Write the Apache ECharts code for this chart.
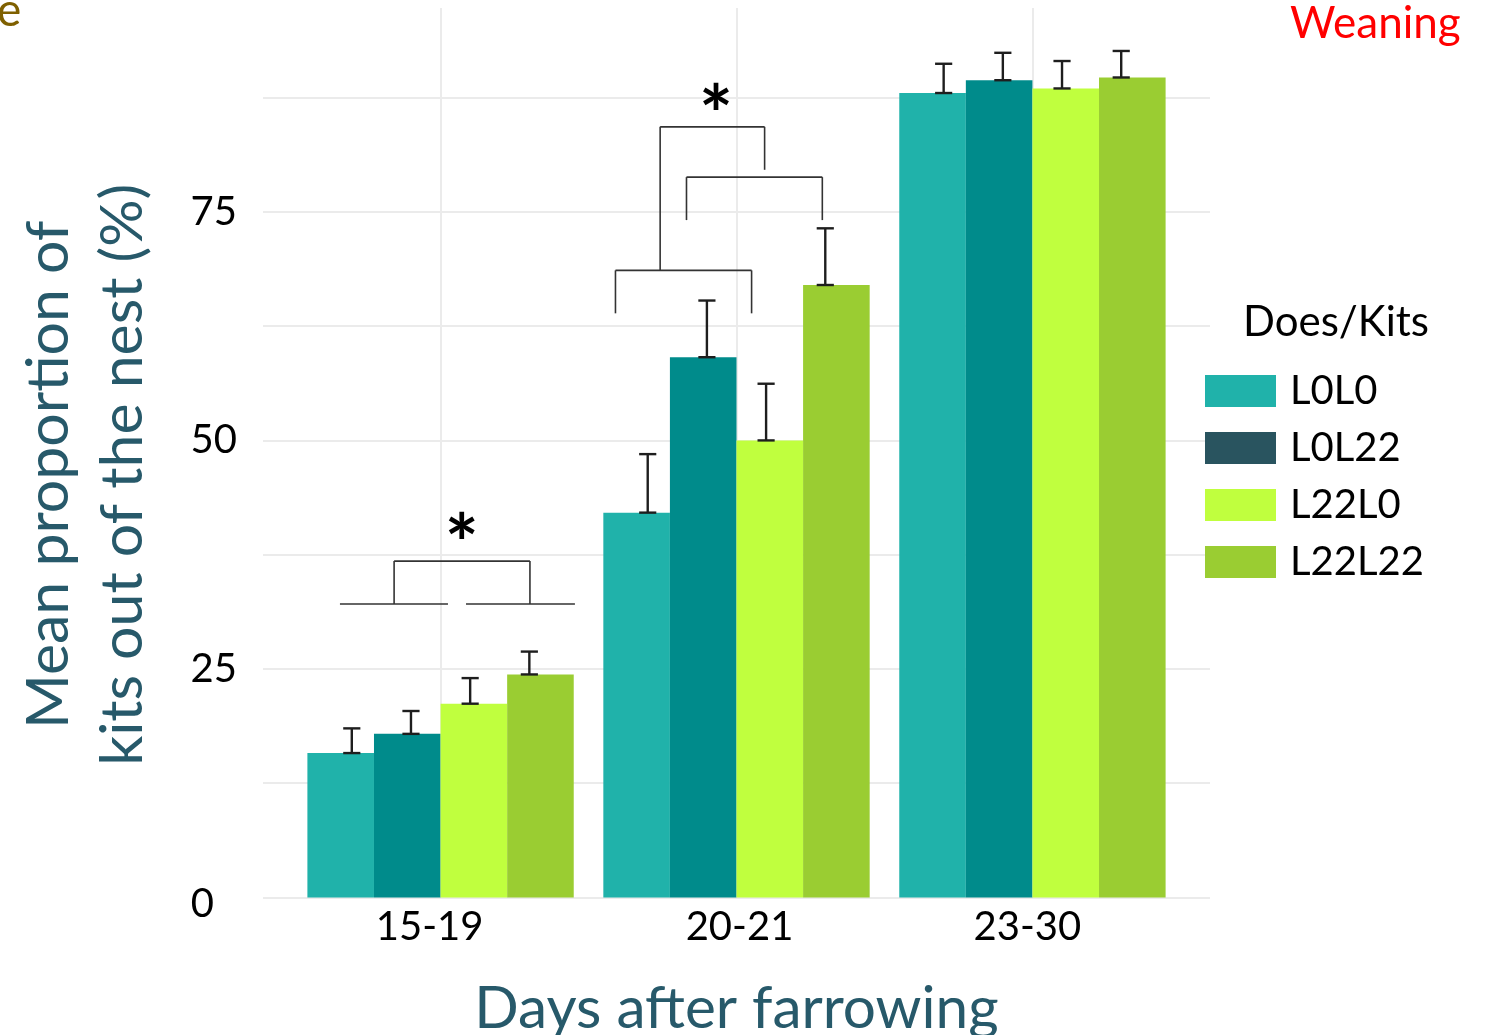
<!DOCTYPE html>
<html>
<head>
<meta charset="utf-8">
<script src="https://cdn.jsdelivr.net/npm/echarts@6/dist/echarts.min.js"></script>
<style>
html,body{margin:0;padding:0;background:#fff;}
#chart{width:1485px;height:1035px;}
</style>
</head>
<body>
<div id="chart"></div>
<script>
// ---- data ----
const categories = ['15-19', '20-21', '23-30'];
const groups = ['L0L0', 'L0L22', 'L22L0', 'L22L22'];
const meanL0L0   = [15.8, 42.1, 88.0];
const meanL0L22  = [17.9, 59.1, 89.4];
const meanL22L0  = [21.2, 50.0, 88.5];
const meanL22L22 = [24.4, 67.0, 89.7];
const upperL0L0   = [18.5, 48.5, 91.2];
const upperL0L22  = [20.4, 65.3, 92.4];
const upperL22L0  = [24.0, 56.2, 91.5];
const upperL22L22 = [26.9, 73.2, 92.6];
const yTickLabels = [0, 25, 50, 75];
// significance brackets: polylines of [category index, offset in category widths, value]
const bracket1519Left  = [[0, -0.340, 32.1], [0, 0.025, 32.1]];
const bracket1519Right = [[0, 0.086, 32.1], [0, 0.454, 32.1]];
const bracket1519Top   = [[0, -0.157, 32.1], [0, -0.157, 36.8], [0, 0.302, 36.8], [0, 0.302, 32.1]];
const bracket2021Left  = [[1, -0.409, 63.9], [1, -0.409, 68.6], [1, 0.051, 68.6], [1, 0.051, 63.9]];
const bracket2021Top   = [[1, -0.258, 68.6], [1, -0.258, 84.3], [1, 0.095, 84.3], [1, 0.095, 79.6]];
const bracket2021Right = [[1, -0.169, 74.1], [1, -0.169, 78.8], [1, 0.290, 78.8], [1, 0.290, 74.1]];
const stars = [[0, 0.072, 38.3], [1, -0.069, 85.2]];

// ---- styles ----
const FONT = 'Lato';
const barColors = ['#20B2AA', '#008B8B', '#C0FF3E', '#9ACD32'];
const legendColors = ['#20B2AA', '#29545F', '#C0FF3E', '#9ACD32'];
const titleColor = '#27596A';
const gridColor = '#EBEBEB';
const catLabelPad = {'15-19': [0, 22, 0, 0], '20-21': [0, 0, 0, 6], '23-30': [0, 10, 0, 0]};

const means = [meanL0L0, meanL0L22, meanL22L0, meanL22L22];
const uppers = [upperL0L0, upperL0L22, upperL22L0, upperL22L22];

const errData = [];
groups.forEach((g, gi) => {
  categories.forEach((c, ci) => {
    errData.push([ci, gi, means[gi][ci], uppers[gi][ci]]);
  });
});

const segData = [];
[bracket1519Left, bracket1519Right, bracket1519Top, bracket2021Left, bracket2021Top, bracket2021Right].forEach(pl => {
  for (let i = 0; i < pl.length - 1; i++) {
    segData.push([pl[i][0], pl[i][1], pl[i][2], pl[i + 1][1], pl[i + 1][2]]);
  }
});

const chart = echarts.init(document.getElementById('chart'), null, {renderer: 'canvas'});

const gridTop = 8, gridBottom = 137.5, yMax = 97.3;

const catRich = {};
categories.forEach((c, i) => {
  catRich['c' + i] = {fontSize: 40, color: '#000', fontFamily: FONT, padding: catLabelPad[c]};
});

const option = {
  backgroundColor: '#ffffff',
  animation: false,
  textStyle: {fontFamily: FONT},
  grid: [
    {left: 292.6, right: 304.6, top: gridTop, bottom: gridBottom, containLabel: false, outerBoundsMode: 'none'},
    {left: 263, right: 275, top: gridTop, bottom: gridBottom, containLabel: false, outerBoundsMode: 'none'}
  ],
  xAxis: [
    {
      type: 'category', gridIndex: 0, data: categories,
      boundaryGap: true,
      axisLine: {show: false}, axisTick: {show: false},
      axisLabel: {
        fontSize: 40, color: '#000', fontFamily: FONT, margin: 10,
        formatter: (v, i) => '{c' + i + '|' + v + '}',
        rich: catRich
      },
      splitLine: {show: false},
      name: 'Days after farrowing', nameLocation: 'middle', nameGap: 82,
      nameTextStyle: {fontSize: 58.5, color: titleColor, fontFamily: FONT}
    },
    {type: 'value', gridIndex: 1, min: 0, max: 1, show: false}
  ],
  yAxis: [
    {type: 'value', gridIndex: 0, min: 0, max: yMax, show: false, splitLine: {show: false}},
    {
      type: 'value', gridIndex: 1, min: 0, max: yMax, interval: 12.5,
      axisLine: {show: false}, axisTick: {show: false},
      splitLine: {show: true, showMaxLine: false, lineStyle: {color: gridColor, width: 2}},
      axisLabel: {
        fontSize: 40, color: '#000', fontFamily: FONT, margin: 26,
        showMaxLabel: false,
        formatter: v => yTickLabels.indexOf(v) >= 0 ? (v === 0 ? '{z|0}' : String(v)) : '',
        rich: {z: {fontSize: 40, fontFamily: FONT, color: '#000', padding: [13, 23, 0, 0]}}
      },
      name: 'Mean proportion of\nkits out of the nest (%)',
      nameLocation: 'middle', nameRotate: 90, nameGap: 103,
      nameTextStyle: {fontSize: 59, color: titleColor, fontFamily: FONT, lineHeight: 74, padding: [0, 44, 0, 0]}
    }
  ],
  legend: {
    orient: 'vertical', left: 1200, top: 366,
    itemWidth: 71, itemHeight: 32, itemGap: 17,
    icon: 'rect',
    textStyle: {fontSize: 40, color: '#000', fontFamily: FONT, padding: [0, 0, 0, 9]},
    data: groups.map((g, i) => ({name: g, itemStyle: {color: legendColors[i]}}))
  },
  graphic: [
    {type: 'text', left: 1243, top: 301, style: {text: 'Does/Kits', fontSize: 42, fontFamily: FONT, fill: '#000'}},
    {type: 'text', left: 1290, top: 2, style: {text: 'Weaning', fontSize: 44, fontFamily: FONT, fill: '#FF0000'}},
    {type: 'text', left: -3, top: -12, style: {text: 'e', fontSize: 46, fontFamily: FONT, fill: '#7F6000'}}
  ],
  series: [
    {
      type: 'line', xAxisIndex: 0, yAxisIndex: 0, data: [], silent: true, z: 0,
      markLine: {
        silent: true, symbol: 'none', z: 1, label: {show: false},
        lineStyle: {color: gridColor, width: 2, type: 'solid'},
        data: categories.map(c => [{coord: [c, 0]}, {coord: [c, yMax]}])
      }
    },
    ...groups.map((g, i) => ({
      name: g, type: 'bar', xAxisIndex: 0, yAxisIndex: 0,
      data: means[i], barGap: '0%', barCategoryGap: '10%',
      itemStyle: {color: barColors[i]}, z: 2
    })),
    {
      type: 'custom', xAxisIndex: 0, yAxisIndex: 0, z: 3, silent: true,
      data: errData,
      renderItem: function (params, api) {
        const ci = api.value(0), gi = api.value(1);
        const band = api.size([1, 0])[0];
        const p0 = api.coord([ci, api.value(2)]);
        const p1 = api.coord([ci, api.value(3)]);
        const x = p0[0] + (gi - 1.5) * 0.2 * band;
        const hw = 0.029 * band;
        const st = {stroke: '#1e1e1e', lineWidth: 2.4};
        return {type: 'group', children: [
          {type: 'line', shape: {x1: x, y1: p0[1], x2: x, y2: p1[1]}, style: st},
          {type: 'line', shape: {x1: x - hw, y1: p0[1], x2: x + hw, y2: p0[1]}, style: st},
          {type: 'line', shape: {x1: x - hw, y1: p1[1], x2: x + hw, y2: p1[1]}, style: st}
        ]};
      }
    },
    {
      type: 'custom', xAxisIndex: 0, yAxisIndex: 0, z: 3, silent: true,
      data: segData,
      renderItem: function (params, api) {
        const ci = api.value(0);
        const band = api.size([1, 0])[0];
        const a = api.coord([ci, api.value(2)]);
        const b = api.coord([ci, api.value(4)]);
        return {type: 'line', shape: {
          x1: a[0] + api.value(1) * band, y1: a[1],
          x2: b[0] + api.value(3) * band, y2: b[1]
        }, style: {stroke: '#333', lineWidth: 1.6}};
      }
    },
    {
      type: 'custom', xAxisIndex: 0, yAxisIndex: 0, z: 3, silent: true,
      data: stars,
      renderItem: function (params, api) {
        const ci = api.value(0);
        const band = api.size([1, 0])[0];
        const p = api.coord([ci, api.value(2)]);
        return {type: 'text', x: p[0] + api.value(1) * band, y: p[1],
          style: {text: '*', fontSize: 80, fontWeight: 'bold', fontFamily: FONT, fill: '#000',
            align: 'center', verticalAlign: 'middle'}};
      }
    }
  ]
};
chart.setOption(option);
</script>
</body>
</html>
